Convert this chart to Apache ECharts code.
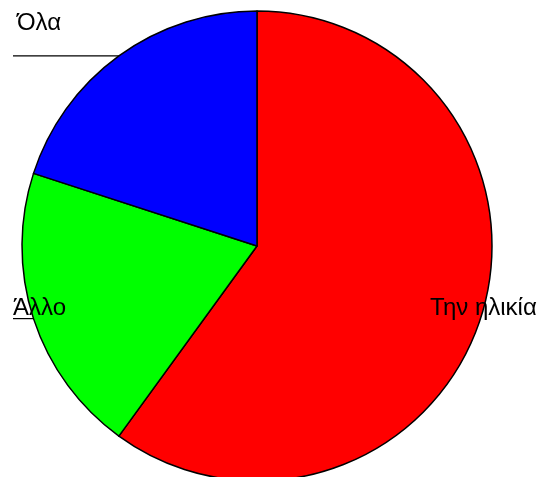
<!DOCTYPE html>
<html>
<head>
<meta charset="utf-8">
<script src="https://cdn.jsdelivr.net/npm/echarts@6/dist/echarts.min.js"></script>
<style>
  html, body { margin: 0; padding: 0; background: #ffffff; }
  #chart { width: 547px; height: 477px; }
</style>
</head>
<body>
<div id="chart"></div>
<script>
// Slice names, values and fill colours (drawn clockwise from 12 o'clock)
const categories = ['Την ηλικία', 'Άλλο', 'Όλα'];
const values = [60, 20, 20];
const colors = ['#ff0000', '#00ff00', '#0000ff'];

// Where each label's text sits (left edge, vertical middle) and where its leader line ends
const labelSpots = [
  { x: 430, y: 308, lineEnd: 467 },
  { x: 13, y: 308, lineEnd: 13 },
  { x: 17, y: 23, lineEnd: 13 }
];

const chart = echarts.init(document.getElementById('chart'), null, { renderer: 'canvas' });

chart.setOption({
  animation: false,
  backgroundColor: '#ffffff',
  series: [{
    type: 'pie',
    center: [257, 246],
    radius: [0, 235],
    startAngle: 90,
    clockwise: true,
    avoidLabelOverlap: false,
    emphasis: { disabled: true },
    data: categories.map((name, i) => ({
      name: name,
      value: values[i],
      itemStyle: { color: colors[i] }
    })),
    itemStyle: { borderColor: '#000000', borderWidth: 1.5 },
    label: {
      show: true,
      position: 'outside',
      formatter: '{b}',
      color: '#000000',
      fontFamily: 'Liberation Sans, Arial, sans-serif',
      fontSize: 24
    },
    labelLine: {
      show: true,
      length: 5,
      length2: 5,
      lineStyle: { color: '#000000', width: 1.2 }
    },
    labelLayout: function (params) {
      const spot = labelSpots[params.dataIndex];
      const start = params.labelLinePoints ? params.labelLinePoints[0] : [spot.lineEnd, spot.y];
      return {
        x: spot.x,
        y: spot.y,
        align: 'left',
        verticalAlign: 'middle',
        labelLinePoints: [start, [(start[0] + spot.lineEnd) / 2, start[1]], [spot.lineEnd, start[1]]]
      };
    }
  }]
});
</script>
</body>
</html>
